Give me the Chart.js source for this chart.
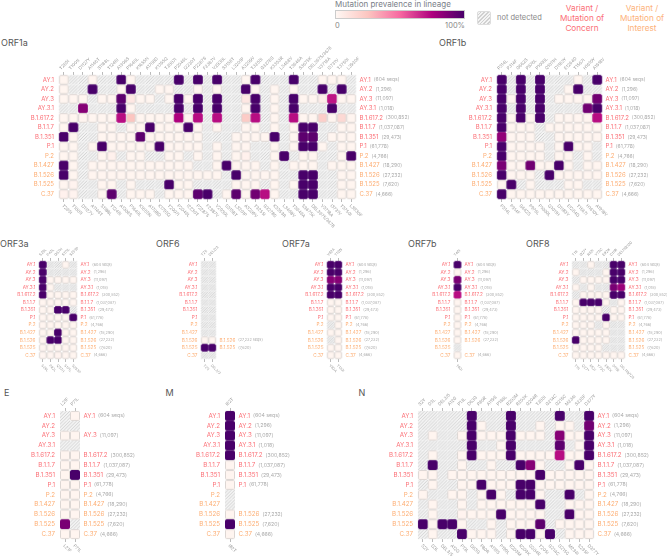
<!DOCTYPE html>
<html lang="en">
<head>
<meta charset="UTF-8">
<title>Mutation prevalence in lineage</title>
<script src="https://cdn.jsdelivr.net/npm/chart.js"></script>
<style>
    body { margin: 0; background: #fff; font-family: Inter, sans-serif; }
    #page { position: relative; width: 667px; height: 556px; overflow: hidden; }
    #page canvas { position: absolute; }
    .t { position: absolute; white-space: nowrap; line-height: 1; }
    .title { font-size: 9px; color: #555; }
    .cls { position: absolute; font-size: 8.2px; line-height: 10px; text-align: center; width: 70px; }
    #bar { position: absolute; left: 335px; top: 10px; width: 130px; height: 9px; border: 1px solid #ccc; box-sizing: border-box;
        background: linear-gradient(to right, #fff7f3, #fcc5c0 25%, #f768a1 50%, #ae017e 75%, #49006a); }
    #nd { position: absolute; left: 477px; top: 11px; width: 14px; height: 14px; border: 1px solid #ddd; border-radius: 2px; box-sizing: border-box;
        background: repeating-linear-gradient(135deg, #f4f4f4 0 1.6px, #d0d0d0 1.6px 2.6px); }
</style>
</head>
<body>
<div id="page">
    <div class="t" style="left:335px;top:0;font-size:8px;color:#7a8088">Mutation prevalence in lineage</div>
    <div id="bar"></div>
    <div class="t" style="left:335px;top:22px;font-size:7.5px;color:#888">0</div>
    <div class="t" style="right:202px;top:22px;font-size:7.5px;color:#888">100%</div>
    <div id="nd"></div>
    <div class="t" style="left:497px;top:14px;font-size:7.5px;color:#888">not detected</div>
    <div class="cls" style="left:547px;top:3px;color:#fb6f76">Variant /<br>Mutation of<br>Concern</div>
    <div class="cls" style="left:607px;top:3px;color:#fdb27a">Variant /<br>Mutation of<br>Interest</div>
    <div class="t title" style="left:1px;top:38px">ORF1a</div>
    <div class="t title" style="left:439px;top:38px">ORF1b</div>
    <div class="t title" style="left:0;top:239px">ORF3a</div>
    <div class="t title" style="left:156px;top:239px">ORF6</div>
    <div class="t title" style="left:282px;top:239px">ORF7a</div>
    <div class="t title" style="left:408px;top:239px">ORF7b</div>
    <div class="t title" style="left:526px;top:239px">ORF8</div>
    <div class="t title" style="left:4px;top:388px">E</div>
    <div class="t title" style="left:165.5px;top:388px">M</div>
    <div class="t title" style="left:358.5px;top:388px">N</div>
</div>
<script>
    const _ = null; // not detected
    const D = 100;

    const lineages = ['AY.1', 'AY.2', 'AY.3', 'AY.3.1', 'B.1.617.2', 'B.1.1.7', 'B.1.351', 'P.1', 'P.2', 'B.1.427', 'B.1.526', 'B.1.525', 'C.37'];
    const counts = ['604', '1,296', '11,097', '1,018', '300,852', '1,037,087', '29,473', '61,778', '4,766', '18,290', '27,232', '7,620', '4,666'];
    const interestFrom = 8; // P.2 onwards is "of interest"

    const orf1aCols = ['T265I', 'T1001I', 'D1127Y', 'A1146T', 'S1188L', 'T1246I', 'A1306S', 'P1640L', 'K1655N', 'A1708D', 'K1795Q', 'T2007I', 'P2046L', 'I2230T', 'P2287S', 'F2387V', 'V2930L', 'S3158T', 'L3201P', 'A3209V', 'T3255I', 'G3278S', 'K3353R', 'L3468V', 'T3646A', 'S3675K', 'DEL3675/3678', 'V3718A', 'I3731V', 'T3750I', 'L3930F'];
    const orf1a = [
        [0, _, _, 0, _, _, D, 0, _, _, _, _, D, _, D, _, D, _, _, 0, D, _, _, _, D, _, _, 0, 0, 0, _],
        [0, _, _, D, _, _, 0, D, _, _, 0, 0, _, _, 0, _, 0, _, _, D, 0, _, 0, _, 0, _, _, D, _, D, _],
        [0, 0, 0, _, 0, 0, 95, 8, 0, 0, _, 0, D, 0, D, _, D, _, _, 8, D, _, 0, _, D, 0, 0, 5, 70, 0, 0],
        [_, _, 85, _, _, _, D, 0, _, _, _, _, D, _, D, _, D, _, _, 0, D, _, 0, _, D, _, _, _, D, _, _],
        [0, 0, 0, 0, 0, 0, 72, 25, 0, 0, 0, 0, 75, 0, 72, _, 72, _, _, 22, 72, _, 0, _, 72, 0, 0, 20, 0, 15, 0],
        [0, D, _, _, 0, 0, _, 0, 0, D, 0, 0, 0, D, 0, _, 0, _, _, 0, 0, _, 0, _, 0, D, D, _, _, 0, 0],
        [D, 0, _, _, 0, 0, 0, 0, 95, 0, 0, 0, 0, 0, 0, _, _, _, 0, 0, 0, 0, D, _, 0, 95, 95, _, 0, 0, 0],
        [0, 0, _, 0, D, 0, 0, 0, 0, 0, D, 0, 0, 0, 0, _, 0, _, 0, 0, _, _, 0, _, 0, D, D, 0, _, 0, 0],
        [0, 0, _, _, 0, 3, _, 0, 0, _, _, 0, 0, _, 0, _, 0, _, 0, 3, _, _, 0, D, _, 0, 0, _, _, 0, D],
        [D, 0, _, 0, 0, 0, 0, 0, 0, 0, 0, 0, 0, 0, _, _, 0, D, 0, 0, 0, _, 0, _, 0, 0, 0, _, 0, 0, 0],
        [D, 0, _, 0, 0, 0, 0, 0, 0, 0, 0, 0, 0, 0, 0, 0, 0, _, D, 0, 0, 0, 0, _, _, D, D, _, _, 0, 0],
        [0, 2, _, _, 0, 0, _, 0, _, _, _, D, 0, 0, _, _, _, _, 0, 0, 0, _, 0, _, 0, D, D, _, _, 0, 0],
        [3, 2, _, _, 0, 95, _, 0, 0, 0, _, 0, 0, 0, 95, D, _, 0, 95, 0, 90, 72, 0, _, _, D, D, _, _, 0, 0]
    ];

    const orf1bCols = ['P314L', 'P314F', 'G662S', 'P976L', 'P1000L', 'Q1011H', 'D1183Y', 'E1264D', 'T1567I', 'H1610Y', 'A1918V'];
    const orf1b = [
        [D, _, D, _, D, _, _, _, 0, _, D],
        [D, _, D, _, D, _, _, 0, D, _, _],
        [D, 0, D, _, D, _, 0, 0, 0, 0, 90],
        [D, _, D, _, D, _, _, _, _, 90, D],
        [D, 0, D, 0, D, _, 0, 0, 0, 0, 72],
        [D, 0, 0, 0, _, 0, 0, 0, 0, 0, 0],
        [82, 0, 0, 0, _, _, 0, 0, 0, 0, 0],
        [D, 0, 0, 0, 0, _, 0, D, 0, 0, _],
        [D, 0, 0, 0, 0, _, 0, 0, _, 0, _],
        [88, 0, 0, 90, 0, 0, D, 0, _, 0, 0],
        [D, 0, 0, 0, _, D, 0, 0, 0, 0, 0],
        [0, D, _, 0, _, _, _, 0, 0, _, _],
        [D, 0, 0, 0, 0, 0, 0, 0, 0, 0, 0]
    ];

    const orf3aCols = ['S26L', 'P42L', 'Q57H', 'S171L', 'S253P'];
    const orf3a = [
        [D, _, _, 0, _],
        [D, _, _, _, _],
        [D, 0, 0, 0, 0],
        [D, 0, _, _, _],
        [D, 0, 0, 0, 0],
        [0, 0, 0, 0, 0],
        [0, 0, D, D, _],
        [0, 0, 0, 0, D],
        [0, 0, 0, 0, 0],
        [0, 0, D, 0, 0],
        [0, D, D, 0, 0],
        [0, 0, 0, 0, 0],
        [1, 1, 2, 0, 0]
    ];

    const orf6Cols = ['T21I', 'DEL2/3'];
    const orf6 = [[_, _], [_, _], [_, _], [_, _], [_, _], [_, _], [_, _], [_, _], [_, _], [_, _], [0, 0], [D, D], [_, _]];

    const orf7aCols = ['V82A', 'T120I'];
    const orf7a = [[D, D], [D, D], [85, 85], [D, D], [D, D], [0, 0], [0, 0], [0, 0], [_, 0], [0, 0], [_, 0], [0, 0], [0, 0]];

    const orf7bCols = ['T40I'];
    const orf7b = [[D], [0], [88], [D], [72], [0], [0], [0], [0], [0], [0], [_], [0]];

    const orf8Cols = ['T11I', 'Q27*', 'R52I', 'Y73C', 'E92K', 'D119I', 'DEL119/120'];
    const orf8 = [
        [_, _, 0, _, _, D, D],
        [0, _, _, _, 0, D, D],
        [_, 0, 0, 0, 0, D, D],
        [0, _, 0, _, _, 88, 80],
        [_, 0, 0, 0, 0, D, D],
        [0, D, D, D, 0, _, 0],
        [0, 0, 0, 0, _, 0, 0],
        [0, 0, 0, 0, D, 0, 0],
        [0, 0, 0, _, 0, _, _],
        [0, 0, 0, 0, 0, _, _],
        [D, 0, 0, 0, 0, _, _],
        [0, 0, 0, 0, _, _, _],
        [0, 0, 0, 0, 0, 0, 0]
    ];

    const eCols = ['L21F', 'P71L'];
    const eGene = [[_, 0], [_, _], [0, 0], [_, _], [0, 0], [0, 0], [0, D], [0, 0], [0, 0], [0, 0], [0, 0], [88, _], [0, 0]];

    const mCols = ['I82T'];
    const mGene = [[D], [D], [D], [D], [D], [0], [0], [0], [_], [_], [0], [D], [0]];

    const nCols = ['S2Y', 'D3L', 'DEL3/5', 'A12G', 'P13L', 'D63G', 'P80R', 'A119S', 'P199L', 'R203M', 'R203K', 'G204R', 'T205I', 'G214C', 'G215C', 'M234I', 'S235F', 'D377Y'];
    const nGene = [
        [_, _, _, _, _, D, _, _, _, D, _, _, _, _, D, _, _, D],
        [_, _, _, _, _, D, 0, _, _, D, _, _, 0, _, 0, 0, _, 90],
        [_, 0, _, _, 0, D, 0, 0, 0, D, 0, 0, 0, _, 85, 0, 0, D],
        [_, _, _, _, _, D, _, _, 0, D, _, _, _, _, 95, _, 0, D],
        [_, 0, _, _, 0, D, 0, 0, 0, D, 0, 0, 0, 0, 72, 0, 0, D],
        [_, D, _, _, 0, _, _, 0, _, _, D, 85, 0, _, _, 0, D, 0],
        [0, 0, _, 0, 0, 0, 0, 0, 0, 0, 0, 0, D, 0, 0, 0, 0, 0],
        [_, 0, _, _, 0, 0, D, 0, 0, 0, D, D, 0, 0, 0, 0, 0, 0],
        [0, _, _, 0, 0, _, 0, D, 0, _, D, D, 0, _, _, D, _, 0],
        [_, 0, _, _, 0, _, 0, 0, 0, 0, 0, 0, D, _, _, 0, 0, 0],
        [_, 0, _, _, 2, 0, 0, 0, D, 0, 0, 0, 0, _, _, D, 0, 0],
        [D, 0, D, D, 0, _, _, 0, _, 0, 0, 0, 95, _, 0, 0, 0, 0],
        [_, 0, _, _, D, 0, 0, 0, _, 0, D, D, 0, D, _, 0, 0, 0]
    ];

    const stops = [[255, 247, 243], [252, 197, 192], [247, 104, 161], [174, 1, 126], [73, 0, 106]];
    const concernColor = '#fb6f76', interestColor = '#fdad72';
    const leftW = 50, topH = 32, bottomH = 32, rightW = 62;

    function prevalenceColor(v) {
        const t = v / 100 * (stops.length - 1);
        const i = Math.min(Math.floor(t), stops.length - 2);
        const f = t - i;
        const rgb = stops[i].map((a, k) => Math.round(a + (stops[i + 1][k] - a) * f));
        return 'rgb(' + rgb.join(',') + ')';
    }

    // one little cell picture per value/size, used as the point style
    const tiles = {};
    function tile(v, pw, ph) {
        const key = v + '_' + pw + '_' + ph;
        if (tiles[key]) return tiles[key];
        const c = document.createElement('canvas');
        c.width = Math.ceil(pw) + 2;
        c.height = Math.ceil(ph) + 2;
        const g = c.getContext('2d');
        const x0 = (c.width - pw) / 2, y0 = (c.height - ph) / 2;
        if (v === null) {
            g.fillStyle = '#f4f4f4';
            g.fillRect(x0, y0, pw, ph);
            g.save();
            g.beginPath();
            g.rect(x0, y0, pw, ph);
            g.clip();
            g.strokeStyle = '#cecece';
            g.lineWidth = 0.9;
            // stripe spacing divides the cell so the hatching runs on into the next cell
            const gap = pw / Math.round(pw / 3);
            for (let s = -ph - gap; s < pw + gap; s += gap) {
                g.beginPath();
                g.moveTo(x0 + s, y0 + ph);
                g.lineTo(x0 + s + ph, y0);
                g.stroke();
            }
            g.restore();
        } else {
            g.beginPath();
            g.roundRect(x0 + 0.5, y0 + 0.5, pw - 1, ph - 1, 1);
            g.fillStyle = v === 0 ? '#fff5f0' : prevalenceColor(v);
            g.fill();
            g.lineWidth = 1;
            g.strokeStyle = v > 30 ? prevalenceColor(v) : '#dcd6d3';
            g.stroke();
        }
        tiles[key] = c;
        return c;
    }

    // bottom labels read downwards and the right labels are two-tone, so they are drawn here from the scales
    const sideText = {
        id: 'sideText',
        afterDraw(chart, args, opts) {
            const ctx = chart.ctx, xb = chart.scales.xb, y = chart.scales.y;
            ctx.save();
            ctx.textBaseline = 'middle';
            ctx.fillStyle = '#999';
            ctx.font = opts.tickFont + 'px Inter';
            ctx.textAlign = 'left';
            xb.getLabels().forEach((label, i) => {
                ctx.save();
                ctx.translate(xb.getPixelForValue(i) - 1, chart.chartArea.bottom + 6);
                ctx.rotate(Math.PI / 4);
                ctx.fillText(label, 0, 0);
                ctx.restore();
            });
            let first = true;
            lineages.forEach((name, r) => {
                if (opts.values[r].every(v => v === null)) return;
                const py = y.getPixelForValue(r), px = chart.chartArea.right + 3.5;
                ctx.font = opts.nameFont + 'px Inter';
                ctx.fillStyle = r < interestFrom ? concernColor : interestColor;
                ctx.fillText(name, px, py);
                const w = ctx.measureText(name).width;
                ctx.font = opts.countFont + 'px Inter';
                ctx.fillStyle = '#aaa';
                ctx.fillText('(' + counts[r] + (first ? ' seqs)' : ')'), px + w + 3, py);
                first = false;
            });
            ctx.restore();
        }
    };

    function heatmap(cols, values, g) {
        const w = g.px * cols.length, h = g.py * lineages.length;
        const left = g.x - g.px / 2, top = g.y - g.py / 2;
        const canvas = document.createElement('canvas');
        canvas.width = leftW + w + rightW;
        canvas.height = topH + h + bottomH;
        canvas.style.left = (left - leftW) + 'px';
        canvas.style.top = (top - topH) + 'px';
        document.getElementById('page').appendChild(canvas);

        const points = [];
        values.forEach((row, r) => row.forEach((v, c) => points.push({ x: cols[c], y: lineages[r], v: v })));
        points.sort((a, b) => (a.v === null ? 0 : 1) - (b.v === null ? 0 : 1));

        const tickGrid = { drawOnChartArea: false, drawTicks: true, tickLength: 3, tickColor: '#bbb' };
        new Chart(canvas, {
            type: 'scatter',
            data: {
                datasets: [{
                    data: points,
                    clip: false,
                    pointRadius: 4,
                    pointStyle: ctx => tile(ctx.raw.v, g.px, g.py)
                }]
            },
            options: {
                responsive: false,
                animation: false,
                events: [],
                layout: { padding: { left: 0, top: 0, right: rightW, bottom: 0 } },
                plugins: {
                    legend: { display: false },
                    tooltip: { enabled: false },
                    sideText: { values: values, tickFont: g.tick, nameFont: g.name, countFont: g.count }
                },
                scales: {
                    x: {
                        type: 'category', labels: cols, position: 'top', offset: true,
                        border: { display: false }, grid: tickGrid,
                        ticks: {
                            autoSkip: false, minRotation: 45, maxRotation: 45, padding: 1,
                            color: '#999', font: { size: g.tick, family: 'Inter' }
                        },
                        afterFit: s => { s.height = topH; }
                    },
                    xb: {
                        axis: 'x', type: 'category', labels: cols, position: 'bottom', offset: true,
                        border: { display: false }, grid: tickGrid,
                        ticks: { display: false },
                        afterFit: s => { s.height = bottomH; }
                    },
                    y: {
                        type: 'category', labels: lineages, offset: true,
                        border: { display: false },
                        grid: { display: false, drawTicks: false },
                        ticks: {
                            autoSkip: false, padding: g.pad,
                            color: c => c.index < interestFrom ? concernColor : interestColor,
                            font: { size: g.name, family: 'Inter' }
                        },
                        afterFit: s => { s.width = leftW; }
                    }
                }
            },
            plugins: [sideText]
        });
    }

    const wide = { px: 9.61, py: 9.61, tick: 4.4, name: 6, count: 5, pad: 5 };
    const small = { px: 7.6, py: 7.57, tick: 3.6, name: 4.7, count: 3.8, pad: 3.5 };
    const third = { px: 10, py: 9.89, tick: 4.4, name: 6.2, count: 5.2, pad: 5 };

    heatmap(orf1aCols, orf1a, { ...wide, x: 63.7, y: 79.7 });
    heatmap(orf1bCols, orf1b, { ...wide, x: 502, y: 79.7 });
    heatmap(orf3aCols, orf3a, { ...small, x: 42.3, y: 264.3 });
    heatmap(orf6Cols, orf6, { ...small, x: 205, y: 264.3 });
    heatmap(orf7aCols, orf7a, { ...small, x: 331, y: 264.3 });
    heatmap(orf7bCols, orf7b, { ...small, x: 457.3, y: 264.3 });
    heatmap(orf8Cols, orf8, { ...small, x: 575.3, y: 264.3 });
    heatmap(eCols, eGene, { ...third, x: 64.5, y: 416 });
    heatmap(mCols, mGene, { ...third, x: 230, y: 416 });
    heatmap(nCols, nGene, { ...third, px: 9.82, x: 423, y: 416 });
</script>
</body>
</html>
